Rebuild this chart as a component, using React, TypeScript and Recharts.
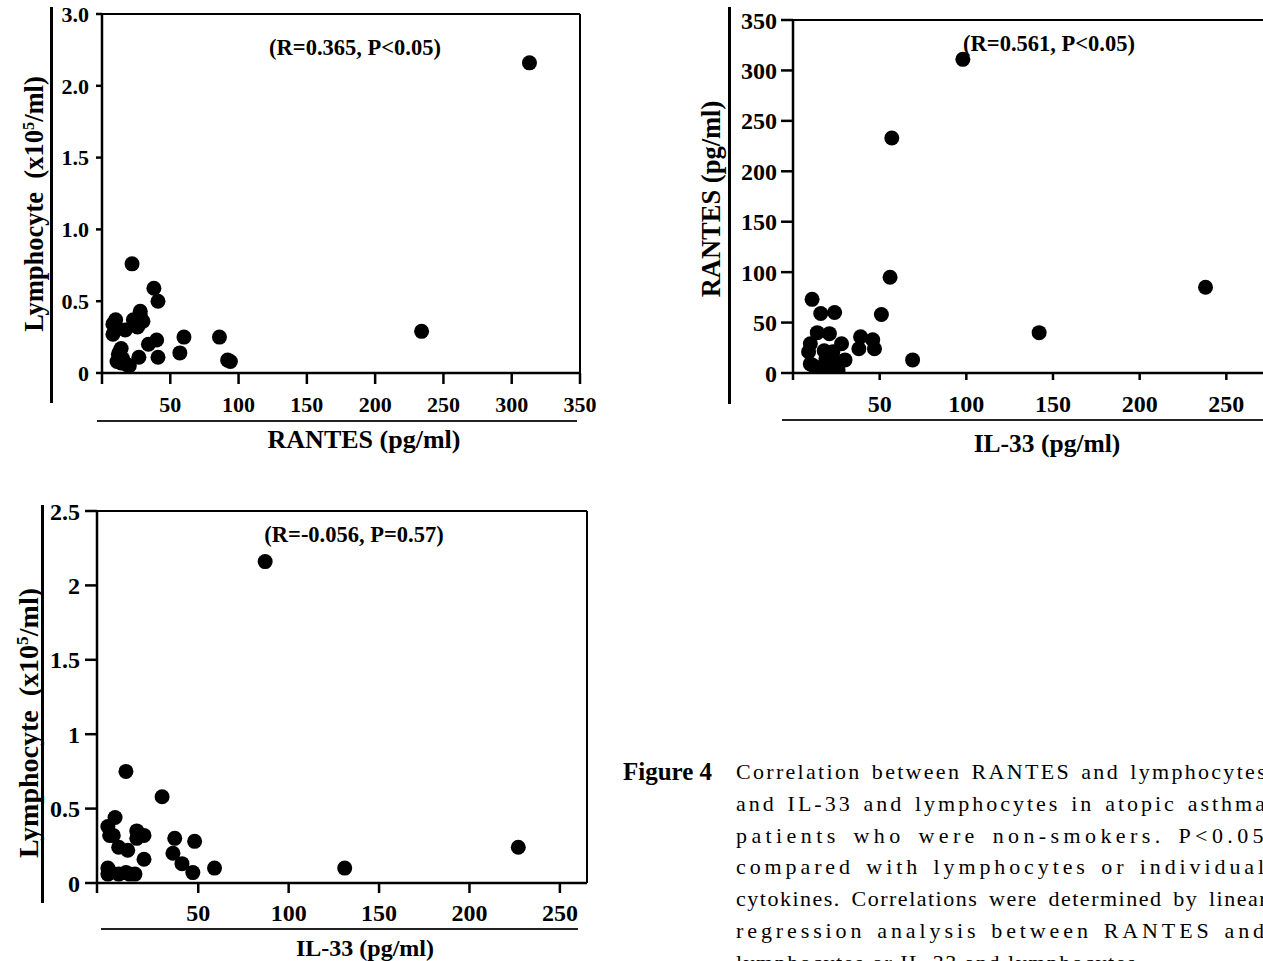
import { ScatterChart, Scatter, XAxis, YAxis, ReferenceLine } from 'recharts';

const FONT = '"Liberation Serif", "Times New Roman", serif';

// Panel A: RANTES (pg/ml) vs lymphocytes (x10^5/ml)
const rantesA = [313, 234, 22, 38, 41, 28, 10, 8, 8, 17, 23, 26, 30, 28, 27, 34, 40, 60, 86, 57, 41, 27, 94, 92, 14, 12, 11, 14, 18, 20, 15, 13];
const lymphA = [2.16, 0.29, 0.76, 0.59, 0.5, 0.43, 0.37, 0.34, 0.27, 0.3, 0.37, 0.32, 0.36, 0.4, 0.34, 0.2, 0.23, 0.25, 0.25, 0.14, 0.11, 0.11, 0.08, 0.09, 0.17, 0.13, 0.08, 0.07, 0.06, 0.05, 0.1, 0.15];
const xTicksA = [0, 50, 100, 150, 200, 250, 300, 350];
const yTicksA = [0, 0.5, 1, 1.5, 2, 2.5];
const yLabelsA = ['0', '0.5', '1.0', '1.5', '2.0', '3.0'];

// Panel B: IL-33 (pg/ml) vs RANTES (pg/ml)
const il33B = [98, 57, 56, 238, 142, 69, 51, 11, 16, 24, 14, 21, 39, 46, 38, 47, 28, 10, 9, 18, 23, 30, 26, 10, 12, 19, 24, 15, 21];
const rantesB = [311, 233, 95, 85, 40, 13, 58, 73, 59, 60, 40, 39, 36, 33, 24, 24, 29, 29, 21, 22, 21, 13, 3, 9, 7, 14, 11, 5, 7];
const xTicksB = [0, 50, 100, 150, 200, 250, 300];
const yTicksB = [0, 50, 100, 150, 200, 250, 300, 350];
const yLabelsB = ['0', '50', '100', '150', '200', '250', '300', '350'];

// Panel C: IL-33 (pg/ml) vs lymphocytes (x10^5/ml)
const il33C = [87, 227, 131, 10, 30, 4, 0, 1, 3, 6, 11, 16, 16, 20, 20, 37, 36, 41, 48, 47, 59, 0, 0, 6, 10, 12, 15, 1];
const lymphC = [2.16, 0.24, 0.1, 0.75, 0.58, 0.44, 0.38, 0.32, 0.32, 0.24, 0.22, 0.35, 0.3, 0.32, 0.16, 0.3, 0.2, 0.13, 0.28, 0.07, 0.1, 0.1, 0.06, 0.06, 0.07, 0.06, 0.06, 0.08];
const xTicksC = [-6, 50, 100, 150, 200, 250];
const yTicksC = [0, 0.5, 1, 1.5, 2, 2.5];
const yLabelsC = ['0', '0.5', '1', '1.5', '2', '2.5'];

const captionLines = [
  'Correlation between RANTES and lymphocytes',
  'and IL-33 and lymphocytes in atopic asthma',
  'patients who were non-smokers. P<0.05',
  'compared with lymphocytes or individual',
  'cytokines. Correlations were determined by linear',
  'regression analysis between RANTES and',
  'lymphocytes or IL-33 and lymphocytes.',
];
// letter spacing per caption line, the print spreads letters rather than words
const captionTracking = [2.3, 3.0, 4.4, 3.9, 1.5, 3.9, 1.5];

const zip = (xs: number[], ys: number[]) => xs.map((x, i) => ({ x, y: ys[i] }));

function Dot(props: any) {
  return <circle cx={props.cx} cy={props.cy} r={7.5} fill="#000" />;
}

function Panel(p: any) {
  const { left, top, width, height, margin, yAxisWidth, xDomain, xTicks, yDomain, yTicks, yLabels, points } = p;
  const tickStyle = { fill: '#000', fontSize: p.fontSize, fontWeight: 'bold', fontFamily: FONT };
  return (
    <div style={{ position: 'absolute', left, top }}>
      <ScatterChart width={width} height={height} margin={margin}>
        <XAxis
          type="number"
          dataKey="x"
          domain={xDomain}
          ticks={xTicks}
          interval={0}
          allowDataOverflow
          height={40}
          tickSize={p.xTickLen}
          tickMargin={p.xTickGap}
          tickFormatter={(v: number) => (v <= 0 ? '' : String(v))}
          tick={tickStyle}
          axisLine={{ stroke: '#000', strokeWidth: 2.5 }}
          tickLine={{ stroke: '#000', strokeWidth: 2.5 }}
        />
        <YAxis
          type="number"
          dataKey="y"
          domain={yDomain}
          ticks={yTicks}
          interval={0}
          allowDataOverflow
          width={yAxisWidth}
          tickSize={p.yTickLen}
          tickMargin={p.yTickGap}
          tickFormatter={(v: number) => yLabels[yTicks.indexOf(v)] ?? ''}
          tick={tickStyle}
          axisLine={{ stroke: '#000', strokeWidth: 2.5 }}
          tickLine={{ stroke: '#000', strokeWidth: 2.5 }}
        />
        <ReferenceLine y={yDomain[1]} stroke="#000" strokeWidth={2} />
        <ReferenceLine x={xDomain[1]} stroke="#000" strokeWidth={2} />
        <Scatter data={points} fill="#000" shape={Dot} isAnimationActive={false} />
      </ScatterChart>
    </div>
  );
}

function VBar({ x, y1, y2 }: { x: number; y1: number; y2: number }) {
  return <div style={{ position: 'absolute', left: x - 1.5, top: y1, width: 3, height: y2 - y1, background: '#000' }} />;
}

function HLine({ y, x1, x2 }: { y: number; x1: number; x2: number }) {
  return <div style={{ position: 'absolute', left: x1, top: y - 1, width: x2 - x1, height: 2, background: '#222' }} />;
}

function Title({ cx, cy, rotate, size = 25, children }: any) {
  return (
    <div
      style={{
        position: 'absolute',
        left: cx - 250,
        top: cy - 16,
        width: 500,
        height: 32,
        lineHeight: '32px',
        textAlign: 'center',
        fontWeight: 'bold',
        fontSize: size,
        whiteSpace: 'nowrap',
        transform: rotate ? 'rotate(-90deg)' : undefined,
      }}
    >
      {children}
    </div>
  );
}

const lymphTitle = (
  <>
    Lymphocyte&nbsp;&nbsp;(x10<span style={{ fontSize: '0.62em', verticalAlign: '0.55em' }}>5</span>/ml)
  </>
);

export default function App() {
  return (
    <div
      style={{
        position: 'absolute',
        left: 0,
        top: 0,
        width: 1263,
        height: 961,
        overflow: 'hidden',
        background: '#fff',
        fontFamily: FONT,
        color: '#000',
      }}
    >
      <Panel
        left={0}
        top={0}
        width={600}
        height={460}
        margin={{ top: 14, right: 20, left: 0, bottom: 47 }}
        yAxisWidth={102}
        xDomain={[0, 350]}
        xTicks={xTicksA}
        yDomain={[0, 2.5]}
        yTicks={yTicksA}
        yLabels={yLabelsA}
        points={zip(rantesA, lymphA)}
        fontSize={22}
        xTickLen={11}
        xTickGap={12}
        yTickLen={6}
        yTickGap={7}
      />
      <VBar x={51} y1={7} y2={403} />
      <HLine y={421} x1={97} x2={577} />
      <Title cx={364} cy={440} size={26}>RANTES (pg/ml)</Title>
      <Title cx={29} cy={204} size={26.5} rotate>{lymphTitle}</Title>
      <Title cx={355} cy={48} size={22.5}>(R=0.365, P&lt;0.05)</Title>

      <Panel
        left={690}
        top={0}
        width={633}
        height={460}
        margin={{ top: 20, right: 10, left: 0, bottom: 47 }}
        yAxisWidth={103}
        xDomain={[0, 300]}
        xTicks={xTicksB}
        yDomain={[0, 350]}
        yTicks={yTicksB}
        yLabels={yLabelsB}
        points={zip(il33B, rantesB)}
        fontSize={24}
        xTickLen={7}
        xTickGap={15}
        yTickLen={12}
        yTickGap={4}
      />
      <VBar x={729} y1={7} y2={404} />
      <HLine y={420} x1={782} x2={1263} />
      <Title cx={1047} cy={444} size={25.5}>IL-33 (pg/ml)</Title>
      <Title cx={711} cy={199} size={26.5} rotate>RANTES (pg/ml)</Title>
      <Title cx={1049} cy={44} size={22.5}>(R=0.561, P&lt;0.05)</Title>

      <Panel
        left={0}
        top={490}
        width={600}
        height={471}
        margin={{ top: 21, right: 13, left: 0, bottom: 38 }}
        yAxisWidth={97}
        xDomain={[-6, 265]}
        xTicks={xTicksC}
        yDomain={[0, 2.5]}
        yTicks={yTicksC}
        yLabels={yLabelsC}
        points={zip(il33C, lymphC)}
        fontSize={24}
        xTickLen={10}
        xTickGap={11}
        yTickLen={12}
        yTickGap={5}
      />
      <VBar x={42} y1={505} y2={903} />
      <HLine y={929} x1={101} x2={578} />
      <Title cx={365} cy={948} size={24}>IL-33 (pg/ml)</Title>
      <Title cx={23} cy={723} size={28} rotate>{lymphTitle}</Title>
      <Title cx={354} cy={535} size={22.5}>(R=-0.056, P=0.57)</Title>

      <div style={{ position: 'absolute', left: 623, top: 756, fontSize: 25, fontWeight: 'bold', lineHeight: '32px' }}>
        Figure 4
      </div>
      <div style={{ position: 'absolute', left: 736, top: 756, width: 532, fontSize: 22 }}>
        {captionLines.map((line, i) => (
          <div
            key={i}
            style={{
              height: 31.8,
              lineHeight: '32px',
              letterSpacing: captionTracking[i],
              textAlign: 'justify',
              textAlignLast: i === captionLines.length - 1 ? 'left' : 'justify',
              whiteSpace: 'nowrap',
            }}
          >
            {line}
          </div>
        ))}
      </div>
    </div>
  );
}
